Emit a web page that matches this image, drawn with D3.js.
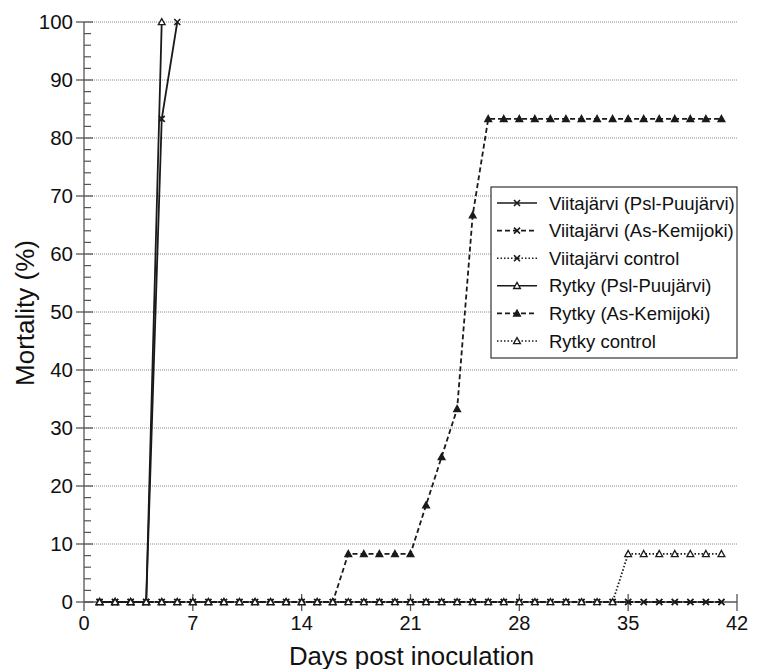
<!DOCTYPE html>
<html><head><meta charset="utf-8">
<script src="https://cdn.jsdelivr.net/npm/d3@7/dist/d3.min.js"></script>
<style>body{margin:0;background:#fff}svg{display:block}text{font-family:"Liberation Sans",Arial,Helvetica,sans-serif;fill:#111}</style>
</head><body><svg id="c" width="760" height="669"></svg>
<script>
const xTicks = [0, 7, 14, 21, 28, 35, 42];
const yTicks = [0, 10, 20, 30, 40, 50, 60, 70, 80, 90, 100];
const days = d3.range(1, 42); // 1..41 observed days
const viitaPslDays = [1, 2, 3, 4, 5, 6];
const viitaPslVals = [0, 0, 0, 0, 83.3, 100];
const viitaAsVals = days.map(() => 0);
const viitaCtrlVals = days.map(() => 0);
const rytkyPslDays = [1, 2, 3, 4, 5];
const rytkyPslVals = [0, 0, 0, 0, 100];
const rytkyAsVals = [0,0,0,0,0,0,0,0,0,0,0,0,0,0,0,0, 8.3,8.3,8.3,8.3,8.3, 16.7,25,33.3,66.7, 83.3,83.3,83.3,83.3,83.3,83.3,83.3,83.3,83.3,83.3,83.3,83.3,83.3,83.3,83.3,83.3];
const rytkyCtrlVals = [0,0,0,0,0,0,0,0,0,0,0,0,0,0,0,0,0,0,0,0,0,0,0,0,0,0,0,0,0,0,0,0,0,0, 8.3,8.3,8.3,8.3,8.3,8.3,8.3];
const seriesNames = ["Viitajärvi (Psl-Puujärvi)","Viitajärvi (As-Kemijoki)","Viitajärvi control","Rytky (Psl-Puujärvi)","Rytky (As-Kemijoki)","Rytky control"];

const series = [
  {name: seriesNames[0], xs: viitaPslDays, ys: viitaPslVals, dash: null, marker: "x", filled: false},
  {name: seriesNames[1], xs: days, ys: viitaAsVals, dash: "5,3", marker: "x", filled: false},
  {name: seriesNames[2], xs: days, ys: viitaCtrlVals, dash: "1.5,2", marker: "x", filled: false},
  {name: seriesNames[3], xs: rytkyPslDays, ys: rytkyPslVals, dash: null, marker: "tri", filled: false},
  {name: seriesNames[4], xs: days, ys: rytkyAsVals, dash: "5,3", marker: "tri", filled: true},
  {name: seriesNames[5], xs: days, ys: rytkyCtrlVals, dash: "1.5,2", marker: "tri", filled: false}
];

const svg = d3.select("#c");
const L = 84, R = 737, T = 22, B = 602;
const x = d3.scaleLinear().domain([0, 42]).range([L, R]);
const y = d3.scaleLinear().domain([0, 100]).range([B, T]);
const ink = "#1a1a1a", axisC = "#555";

// gridlines
svg.append("g").selectAll("line").data(yTicks.filter(d => d > 0)).join("line")
  .attr("x1", L).attr("x2", R).attr("y1", d => y(d)).attr("y2", d => y(d))
  .attr("stroke", "#8a8a8a").attr("stroke-width", 1).attr("stroke-dasharray", "1,1");

// y axis
const yAx = svg.append("g").attr("transform", `translate(${L},0)`);
yAx.append("line").attr("y1", B).attr("y2", T).attr("stroke", axisC).attr("stroke-width", 1.3);
yAx.selectAll(".mn").data(d3.range(0, 101, 2).filter(d => d % 10 !== 0)).join("line")
  .attr("x1", 0).attr("x2", 7).attr("y1", d => y(d)).attr("y2", d => y(d)).attr("stroke", axisC).attr("stroke-width", 1.2);
yAx.selectAll(".mj").data(yTicks).join("line")
  .attr("x1", -8).attr("x2", 9).attr("y1", d => y(d)).attr("y2", d => y(d)).attr("stroke", axisC).attr("stroke-width", 1.3);
yAx.selectAll("text").data(yTicks).join("text")
  .attr("x", -11).attr("y", d => y(d)).attr("dy", "0.36em").attr("text-anchor", "end")
  .style("font-size", "20.5px").text(d => d);

// x axis
const xAx = svg.append("g").attr("transform", `translate(0,${B})`);
xAx.append("line").attr("x1", L).attr("x2", R).attr("stroke", axisC).attr("stroke-width", 1.3);
xAx.selectAll(".mj").data(xTicks).join("line")
  .attr("x1", d => x(d)).attr("x2", d => x(d)).attr("y1", d => d === 0 ? 0 : -8).attr("y2", 9)
  .attr("stroke", axisC).attr("stroke-width", 1.3);
xAx.selectAll("text").data(xTicks).join("text")
  .attr("x", d => x(d)).attr("y", 28).attr("text-anchor", "middle")
  .style("font-size", "20px").text(d => d);

// titles
svg.append("text").attr("x", (L + R) / 2 + 1).attr("y", 665).attr("text-anchor", "middle")
  .style("font-size", "25.8px").text("Days post inoculation");
svg.append("text").attr("transform", `translate(34,${(T + B) / 2 + 1}) rotate(-90)`).attr("text-anchor", "middle")
  .style("font-size", "26px").text("Mortality (%)");

// markers
function drawMarker(g, type, filled, cx, cy) {
  if (type === "x") {
    const s = 3;
    g.append("path").attr("d", `M${cx - s},${cy - s}L${cx + s},${cy + s}M${cx - s},${cy + s}L${cx + s},${cy - s}`)
      .attr("stroke", ink).attr("stroke-width", 1.6).attr("fill", "none");
  } else {
    const s = 3.4;
    g.append("path").attr("d", `M${cx},${cy - s}L${cx + s},${cy + s * 0.8}L${cx - s},${cy + s * 0.8}Z`)
      .attr("stroke", ink).attr("stroke-width", 1.3).attr("fill", filled ? ink : "#fff");
  }
}

const line = d3.line().x(d => x(d[0])).y(d => y(d[1]));
series.forEach(s => {
  const pts = s.xs.map((d, i) => [d, s.ys[i]]);
  const g = svg.append("g");
  g.append("path").attr("d", line(pts)).attr("fill", "none").attr("stroke", ink)
    .attr("stroke-width", 1.8).attr("stroke-dasharray", s.dash);
  pts.forEach(p => drawMarker(g, s.marker, s.filled, x(p[0]), y(p[1])));
});

// legend
const lg = svg.append("g");
lg.append("rect").attr("x", 491).attr("y", 187).attr("width", 246).attr("height", 171)
  .attr("fill", "#fff").attr("stroke", "#333").attr("stroke-width", 1.2);
series.forEach((s, i) => {
  const yy = 203 + i * 27.6;
  lg.append("line").attr("x1", 497).attr("x2", 537).attr("y1", yy).attr("y2", yy)
    .attr("stroke", ink).attr("stroke-width", 1.6).attr("stroke-dasharray", s.dash);
  drawMarker(lg, s.marker, s.filled, 517, yy);
  lg.append("text").attr("x", 549).attr("y", yy).attr("dy", "0.36em").style("font-size", "18.5px").text(s.name);
});
</script></body></html>
